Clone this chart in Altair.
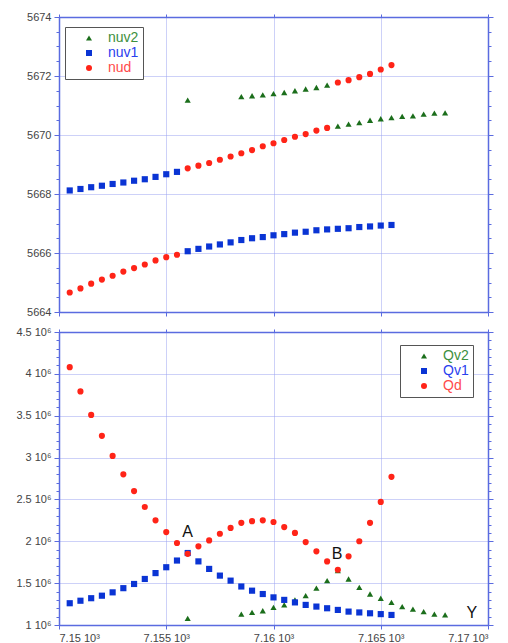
import altair as alt
import pandas as pd

# ---------------- data ----------------
X_FULL = [7150.5, 7151.0, 7151.5, 7152.0, 7152.5, 7153.0, 7153.5, 7154.0, 7154.5, 7155.0,
          7155.5, 7156.0, 7156.5, 7157.0, 7157.5, 7158.0, 7158.5, 7159.0, 7159.5, 7160.0,
          7160.5, 7161.0, 7161.5, 7162.0, 7162.5, 7163.0, 7163.5, 7164.0, 7164.5, 7165.0, 7165.5]
X_V2 = [7156.0, 7158.5, 7159.0, 7159.5, 7160.0, 7160.5, 7161.0, 7161.5, 7162.0, 7162.5,
        7163.0, 7163.5, 7164.0, 7164.5, 7165.0, 7165.5, 7166.0, 7166.5, 7167.0, 7167.5, 7168.0]

nuv2 = [5671.18, 5671.30, 5671.33, 5671.36, 5671.40, 5671.44, 5671.50, 5671.56, 5671.61, 5671.69,
        5670.30, 5670.37, 5670.42, 5670.50, 5670.55, 5670.59, 5670.63, 5670.65, 5670.71, 5670.74, 5670.75]
nuv1 = [5668.12, 5668.17, 5668.23, 5668.28, 5668.34, 5668.39, 5668.45, 5668.50, 5668.58, 5668.67,
        5668.75, 5666.06, 5666.14, 5666.22, 5666.29, 5666.36, 5666.44, 5666.50, 5666.54, 5666.60,
        5666.64, 5666.69, 5666.72, 5666.77, 5666.80, 5666.82, 5666.84, 5666.88, 5666.90, 5666.93, 5666.95]
nud = [5664.66, 5664.80, 5664.96, 5665.10, 5665.23, 5665.37, 5665.49, 5665.61, 5665.75, 5665.86,
       5665.94, 5668.87, 5668.96, 5669.05, 5669.16, 5669.27, 5669.38, 5669.49, 5669.62, 5669.72,
       5669.83, 5669.94, 5670.03, 5670.15, 5670.24, 5671.78, 5671.86, 5671.96, 5672.07, 5672.22, 5672.37]

Qv2 = [1.08, 1.13, 1.15, 1.17, 1.21, 1.24, 1.30, 1.35, 1.44, 1.53,
       1.65, 1.55, 1.45, 1.37, 1.32, 1.27, 1.22, 1.19, 1.16, 1.13, 1.12]
Qv1 = [1.26, 1.29, 1.32, 1.35, 1.39, 1.44, 1.49, 1.55, 1.62, 1.69,
       1.77, 1.86, 1.76, 1.67, 1.59, 1.53, 1.46, 1.41, 1.37, 1.33,
       1.30, 1.27, 1.24, 1.22, 1.20, 1.18, 1.16, 1.15, 1.14, 1.13, 1.12]
Qd = [4.08, 3.79, 3.51, 3.26, 3.02, 2.80, 2.60, 2.41, 2.25, 2.11,
      1.98, 1.85, 1.94, 2.01, 2.09, 2.16, 2.22, 2.24, 2.25, 2.23,
      2.17, 2.10, 1.99, 1.88, 1.76, 1.66, 1.82, 2.00, 2.22, 2.47, 2.77]
Q_SCALE = 1e6

TOP_NAMES = ["nuv2", "nuv1", "nud"]
BOT_NAMES = ["Qv2", "Qv1", "Qd"]
COLORS = ["#1b6e1b", "#0a34d4", "#ff2418"]
LABEL_COLORS = ["#3d8f3d", "#2a40ee", "#ff4a4a"]
SHAPES = ["triangle-up", "square", "circle"]

X_TICKS = [7150, 7155, 7160, 7165, 7170]
X_LABELS = ["7.15 10³", "7.155 10³", "7.16 10³", "7.165 10³", "7.17 10³"]

Y_TOP_TICKS = [5664, 5666, 5668, 5670, 5672, 5674]
Y_TOP_LABELS = ["5664", "5666", "5668", "5670", "5672", "5674"]
Y_TOP_MINOR = [5664 + 0.5 * i for i in range(21)]

Y_BOT_TICKS = [1000000, 1500000, 2000000, 2500000, 3000000, 3500000, 4000000, 4500000]
Y_BOT_LABELS = ["1 10⁶", "1.5 10⁶", "2 10⁶", "2.5 10⁶", "3 10⁶", "3.5 10⁶", "4 10⁶", "4.5 10⁶"]
Y_BOT_MINOR = [1000000 + 100000 * i for i in range(36)]

ANNOT_TEXT = ["A", "B", "Y"]
ANNOT_X = [7156.0, 7162.96, 7169.25]
ANNOT_Y = [2.11e6, 1.85e6, 1.14e6]

# ---------------- build ----------------
def frame(names, xs_list, ys_list, mult=1.0):
    rows = []
    for n, xs, ys in zip(names, xs_list, ys_list):
        for x, y in zip(xs, ys):
            rows.append({"series": n, "x": x, "y": y * mult})
    return pd.DataFrame(rows)

top_df = frame(TOP_NAMES, [X_V2, X_FULL, X_FULL], [nuv2, nuv1, nud])
bot_df = frame(BOT_NAMES, [X_V2, X_FULL, X_FULL], [Qv2, Qv1, Qd], Q_SCALE)
annot_df = pd.DataFrame({"t": ANNOT_TEXT, "x": ANNOT_X, "y": ANNOT_Y})

AXIS_COLOR = "#5a6be0"
GRID_COLOR = "#9aa2f0"
LABEL_COLOR = "#444444"
FONT = "Liberation Sans"
W = 429


def label_map(vals, labels):
    return "{" + ",".join(f"'{v}':'{l}'" for v, l in zip(vals, labels)) + "}"


def major_test(vals):
    return "indexof([" + ",".join(str(v) for v in vals) + "], datum.value) >= 0"


def base_axis(**kw):
    d = dict(title=None, domainColor=AXIS_COLOR, domainWidth=1.5, tickColor=AXIS_COLOR,
             tickWidth=1, labelColor=LABEL_COLOR, labelFont=FONT, labelFontSize=11,
             gridColor=GRID_COLOR, gridDash=[1, 1], gridWidth=1)
    d.update(kw)
    return alt.Axis(**d)


def x_axes(show_labels):
    bottom = base_axis(orient="bottom", values=X_TICKS, grid=True, tickSize=4,
                       labels=show_labels,
                       labelExpr=label_map(X_TICKS, X_LABELS) + "[datum.value]",
                       labelPadding=3,
                       minExtent=3 if not show_labels else 10,
                       maxExtent=3 if not show_labels else 40)
    top = base_axis(orient="top", values=X_TICKS, grid=False, tickSize=3, labels=False,
                    minExtent=3, maxExtent=3)
    return bottom, top


def y_axes(minor, majors, labels):
    cond_size = {"condition": {"test": major_test(majors), "value": 5}, "value": 3}
    cond_grid = {"condition": {"test": major_test(majors), "value": 1}, "value": 0}
    left = base_axis(orient="left", values=minor, grid=True, gridOpacity=cond_grid,
                     tickSize=cond_size,
                     labelExpr="(" + label_map(majors, labels) + "[datum.value]) || ''",
                     labelPadding=3, minExtent=45, maxExtent=45)
    right = base_axis(orient="right", values=minor, grid=False, tickSize=cond_size,
                      labels=False, minExtent=3, maxExtent=5)
    return left, right


def panel(df, names, ydomain, minor, majors, labels, show_x_labels, legend_x, legend_y,
          height, annot=None):
    xb, xt = x_axes(show_x_labels)
    yl, yr = y_axes(minor, majors, labels)
    xscale = alt.Scale(domain=[7150, 7170], nice=False, zero=False)
    yscale = alt.Scale(domain=ydomain, nice=False, zero=False)
    label_expr = "{" + ",".join(f"'{n}':'{c}'" for n, c in zip(names, LABEL_COLORS)) + "}[datum.label]"
    legend = alt.Legend(orient="none", legendX=legend_x, legendY=legend_y, title=None,
                        strokeColor="#555555", fillColor="white", padding=4,
                        symbolSize=36, symbolStrokeWidth=0, symbolOffset=13,
                        labelOffset=12, labelFontSize=14, labelFont=FONT,
                        labelColor={"expr": label_expr}, rowPadding=1)
    pts = alt.Chart(df).mark_point(filled=True, size=38, opacity=1).encode(
        x=alt.X("x:Q", scale=xscale, axis=xb),
        y=alt.Y("y:Q", scale=yscale, axis=yl),
        color=alt.Color("series:N", scale=alt.Scale(domain=names, range=COLORS), legend=legend),
        shape=alt.Shape("series:N", scale=alt.Scale(domain=names, range=SHAPES), legend=legend),
        order=alt.Order("ord:Q"),
    ).transform_calculate(
        ord="indexof(" + str(names) + ", datum.series)"
    )
    ghost = alt.Chart(df).mark_point(opacity=0).encode(
        x=alt.X("x:Q", scale=xscale, axis=xt),
        y=alt.Y("y:Q", scale=yscale, axis=yr),
    )
    layers = [pts, ghost]
    if annot is not None:
        layers.append(alt.Chart(annot).mark_text(fontSize=16, font=FONT, color="#111111").encode(
            x=alt.X("x:Q", scale=xscale, axis=None),
            y=alt.Y("y:Q", scale=yscale, axis=None),
            text="t:N"))
    return alt.layer(*layers).resolve_axis(x="independent", y="independent").properties(
        width=W, height=height)


top = panel(top_df, TOP_NAMES, [5664, 5674], Y_TOP_MINOR, Y_TOP_TICKS, Y_TOP_LABELS,
            False, 6, 10, 295)
bottom = panel(bot_df, BOT_NAMES, [1000000, 4500000], Y_BOT_MINOR, Y_BOT_TICKS, Y_BOT_LABELS,
               True, 341, 13, 293, annot=annot_df)

chart = alt.vconcat(top, bottom, spacing=7).resolve_scale(
    color="independent", shape="independent"
).properties(
    padding={"left": 5, "top": 2, "right": 0, "bottom": 0}
).configure_view(strokeWidth=0).configure(background="white")

chart.save("out.html", embed_options={"renderer": "svg", "actions": False})
